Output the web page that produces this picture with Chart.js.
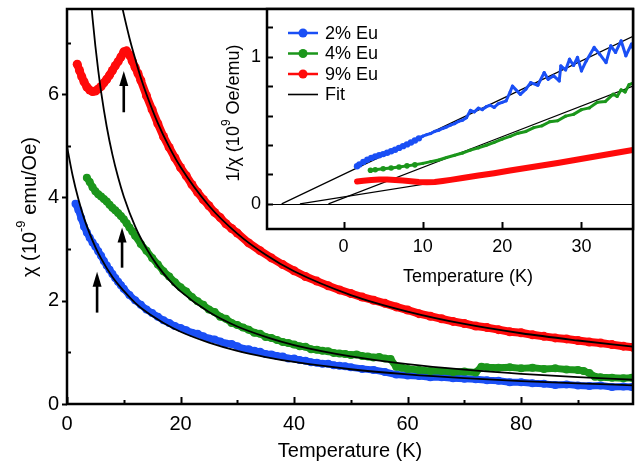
<!DOCTYPE html>
<html>
<head>
<meta charset="utf-8">
<script src="https://cdn.jsdelivr.net/npm/chart.js@4.4.1/dist/chart.umd.min.js"></script>
<style>
  html, body { margin: 0; padding: 0; background: #fff; }
  #wrap { position: relative; width: 644px; height: 463px; }
  #wrap canvas { position: absolute; left: 0; top: 0; }
</style>
</head>
<body>
<div id="wrap">
  <canvas id="mainChart" width="644" height="463"></canvas>
  <canvas id="insetChart" width="644" height="300"></canvas>
</div>
<script>
// ---- main panel: chi vs T ----
const mainXTicks = [0, 20, 40, 60, 80];
const mainXMinor = [10, 30, 50, 70, 90];
const mainYTicks = [0, 2, 4, 6];
const mainYMinor = [1, 3, 5, 7];

const blueT = [1.5, 2, 2.5, 3, 3.5, 4, 4.5, 5, 5.5, 6, 6.5, 7, 7.5, 8, 8.5, 9, 9.5, 10, 11, 12, 13, 14, 15, 16, 17, 18, 19, 20,
  21, 22, 23, 24, 25, 26, 27, 28, 29, 30, 31, 32, 33, 34, 35, 36, 37, 38, 39, 40, 41, 42, 43, 44, 45, 46, 47, 48, 49, 50,
  52, 54, 56, 58, 60, 62, 64, 66, 68, 70, 72, 74, 76, 78, 80, 82, 84, 86, 88, 90, 92, 94, 96, 98, 99.5];
const blueChi = [3.88, 3.76, 3.60, 3.44, 3.32, 3.22, 3.13, 3.05, 2.96, 2.87, 2.77, 2.68, 2.60, 2.52, 2.44, 2.37, 2.30, 2.23, 2.11, 2.01, 1.92, 1.83, 1.76, 1.69, 1.62, 1.57, 1.51, 1.47,
  1.43, 1.38, 1.36, 1.31, 1.27, 1.25, 1.21, 1.17, 1.16, 1.12, 1.07, 1.06, 1.03, 1.01, 0.97, 0.96, 0.93, 0.92, 0.88, 0.88, 0.85, 0.84, 0.81, 0.80, 0.78, 0.78, 0.75, 0.74, 0.73, 0.71,
  0.68, 0.66, 0.62, 0.57, 0.55, 0.54, 0.52, 0.52, 0.50, 0.49, 0.48, 0.46, 0.45, 0.42, 0.42, 0.40, 0.39, 0.37, 0.38, 0.36, 0.35, 0.36, 0.33, 0.34, 0.33];

const greenT = [3.5, 4, 4.5, 5, 5.5, 6, 6.5, 7, 7.5, 8, 8.5, 9, 9.5, 10, 10.5, 11, 11.5, 12, 13, 14, 15, 16, 17, 18, 19, 20,
  21, 22, 23, 24, 25, 26, 27, 28, 29, 30, 31, 32, 33, 34, 35, 36, 37, 38, 39, 40, 41, 42, 43, 44, 45, 46, 47, 48, 49, 50,
  51, 52, 53, 54, 55, 56, 57, 58, 59, 60, 62, 64, 66, 68, 70, 72, 73, 74, 76, 78, 80, 82, 84, 86, 88, 90, 91, 92, 93, 94, 96, 98, 99.5];
const greenChi = [4.38, 4.30, 4.20, 4.12, 4.06, 4.02, 3.97, 3.92, 3.86, 3.80, 3.75, 3.70, 3.64, 3.58, 3.50, 3.42, 3.34, 3.26, 3.10, 2.97, 2.83, 2.70, 2.57, 2.47, 2.36, 2.26,
  2.18, 2.07, 1.99, 1.92, 1.83, 1.78, 1.69, 1.65, 1.57, 1.53, 1.48, 1.44, 1.38, 1.36, 1.30, 1.28, 1.24, 1.20, 1.18, 1.15, 1.12, 1.11, 1.06, 1.05, 1.03, 1.02, 0.99, 0.98, 0.97, 0.95,
  0.96, 0.93, 0.92, 0.90, 0.91, 0.88, 0.87, 0.72, 0.70, 0.68, 0.66, 0.64, 0.64, 0.62, 0.63, 0.61, 0.72, 0.71, 0.70, 0.71, 0.69, 0.70, 0.68, 0.69, 0.67, 0.66, 0.64, 0.60, 0.53, 0.52, 0.51, 0.50, 0.51];

const redT = [1.8, 2.2, 2.6, 3, 3.5, 4, 4.5, 5, 5.5, 6, 6.5, 7, 7.5, 8, 8.5, 9, 9.5, 10, 10.5, 11, 11.5, 12, 12.5, 13, 14, 15, 16, 17, 18, 19, 20,
  21, 22, 23, 24, 25, 26, 27, 28, 29, 30, 32, 34, 36, 38, 40, 42, 44, 46, 48, 50, 52, 54, 56, 58, 60, 62, 64, 66, 68, 70,
  72, 74, 76, 78, 80, 82, 84, 86, 88, 90, 92, 94, 96, 98, 99.7];
const redChi = [6.58, 6.46, 6.34, 6.24, 6.14, 6.08, 6.05, 6.06, 6.10, 6.15, 6.22, 6.29, 6.37, 6.46, 6.55, 6.63, 6.72, 6.82, 6.84, 6.76, 6.64, 6.52, 6.40, 6.27, 5.97, 5.70, 5.43, 5.18, 4.97, 4.77, 4.58,
  4.42, 4.25, 4.10, 3.96, 3.84, 3.71, 3.61, 3.49, 3.40, 3.31, 3.12, 2.97, 2.83, 2.70, 2.58, 2.47, 2.38, 2.29, 2.21, 2.14, 2.07, 2.01, 1.95, 1.88, 1.82, 1.75, 1.70, 1.65, 1.60, 1.56,
  1.51, 1.48, 1.44, 1.40, 1.38, 1.34, 1.31, 1.28, 1.26, 1.23, 1.20, 1.18, 1.15, 1.12, 1.10];

// Curie-Weiss fit curves
const blueFitT = [0, 1, 2, 3, 4, 5, 6, 8, 10, 12, 14, 17, 20, 25, 30, 35, 40, 50, 60, 70, 80, 90, 99.7];
const blueFit = [4.99, 4.42, 3.97, 3.60, 3.30, 3.04, 2.82, 2.46, 2.19, 1.96, 1.78, 1.57, 1.40, 1.19, 1.03, 0.909, 0.814, 0.673, 0.574, 0.500, 0.443, 0.398, 0.362];
const greenFitT = [4.2, 4.5, 5, 5.5, 6, 7, 8, 9, 10, 12, 14, 16, 18, 20, 25, 30, 35, 40, 50, 60, 70, 80, 90, 99.7];
const greenFit = [7.84, 7.47, 6.93, 6.46, 6.05, 5.37, 4.83, 4.39, 4.02, 3.44, 3.01, 2.67, 2.40, 2.18, 1.78, 1.50, 1.30, 1.14, 0.921, 0.772, 0.665, 0.584, 0.520, 0.470];
const redFitT = [9.5, 10, 11, 12, 13, 14, 16, 18, 20, 25, 30, 35, 40, 50, 60, 70, 80, 90, 99.7];
const redFit = [7.80, 7.55, 7.09, 6.69, 6.32, 6.00, 5.44, 4.98, 4.59, 3.84, 3.30, 2.89, 2.57, 2.11, 1.79, 1.55, 1.37, 1.23, 1.11];

// arrows marking the transitions
const arrowT = [5.3, 9.7, 10.0];
const arrowBase = [1.77, 2.64, 5.65];
const arrowTip = [2.56, 3.42, 6.45];

// ---- inset: 1/chi vs T ----
const insetXTicks = [0, 10, 20, 30];
const insetYTicks = [0, 0.2, 0.4, 0.6, 0.8, 1.0, 1.2];
const insetYLabels = [0, 1];
const legendLabels = ['2% Eu', '4% Eu', '9% Eu', 'Fit'];

const invBlueT = [1.7, 2.0, 2.5, 3.0, 3.5, 4.0, 4.5, 5.0, 5.5, 6.0, 6.5, 7.0, 7.5, 8.0, 8.5, 9.0, 9.5, 10, 10.5, 11, 11.5, 12, 12.5, 13, 13.5, 14, 14.5, 15, 15.5,
  16, 16.5, 17, 17.5, 18, 18.5, 19, 19.5, 20, 20.5, 21, 21.3, 22.3, 23, 23.6, 24.5, 25.3, 25.8, 26.5, 27.2, 27.4, 28, 28.5, 29, 29.5, 30, 30.6, 31.6, 32.3, 33.1, 33.7, 34.3, 35, 35.6, 36.3, 36.5];
const invBlue = [0.255, 0.268, 0.285, 0.300, 0.312, 0.322, 0.330, 0.338, 0.347, 0.357, 0.368, 0.380, 0.392, 0.404, 0.417, 0.430, 0.445, 0.460, 0.470, 0.478, 0.492, 0.500, 0.512, 0.522, 0.535, 0.545, 0.560, 0.568, 0.585,
  0.635, 0.625, 0.650, 0.640, 0.660, 0.670, 0.655, 0.680, 0.690, 0.700, 0.760, 0.800, 0.744, 0.780, 0.824, 0.806, 0.892, 0.846, 0.870, 0.835, 0.937, 0.910, 0.983, 0.940, 0.995, 0.903, 0.971, 1.063, 1.017, 0.960, 1.074, 1.029, 1.108, 1.006, 1.085, 1.06];

const invGreenT = [3.4, 4, 5, 6, 7, 8, 9, 10, 11, 12, 13, 14, 15, 16, 17, 18, 19, 20, 21, 22, 23, 24, 25, 26, 27, 28, 29, 30, 31, 32, 33, 34, 34.5, 35, 35.5, 36, 36.5];
const invGreen = [0.228, 0.232, 0.238, 0.244, 0.250, 0.258, 0.265, 0.275, 0.287, 0.298, 0.315, 0.330, 0.345, 0.365, 0.380, 0.398, 0.418, 0.440, 0.458, 0.480, 0.492, 0.518, 0.530, 0.558, 0.565, 0.596, 0.608, 0.640, 0.652, 0.690, 0.695, 0.745, 0.730, 0.775, 0.760, 0.810, 0.820];

const invRedT = [1.7, 2.5, 3.5, 4.5, 5.5, 6.5, 7.5, 8.5, 9.5, 10.5, 11.5, 12.5, 13.5, 15, 17, 19, 21, 23, 25, 27, 29, 31, 33, 35, 36.5];
const invRed = [0.152, 0.157, 0.162, 0.165, 0.165, 0.162, 0.158, 0.153, 0.148, 0.146, 0.148, 0.155, 0.163, 0.175, 0.192, 0.208, 0.226, 0.243, 0.260, 0.278, 0.296, 0.315, 0.333, 0.352, 0.367];

// linear fits of 1/chi (end points)
const invBlueFitT = [-7.8, 36.5];
const invBlueFit = [0, 1.138];
const invGreenFitT = [-1.9, 36.5];
const invGreenFit = [0, 0.80];
const invRedFitT = [-5.5, 36.5];
const invRedFit = [0, 0.359];

const BLUE = '#1a4ff5';
const GREEN = '#1b961b';
const RED = '#ff0a0a';
const FONT = '"Liberation Sans", Arial, sans-serif';

function pts(xs, ys)
{
    return xs.map((x, i) => ({ x: x, y: ys[i] }));
}

// text with a superscript part, optionally rotated
function drawRich(ctx, parts, cx, cy, size, rotated)
{
    ctx.save();
    ctx.translate(cx, cy);
    if (rotated) ctx.rotate(-Math.PI / 2);
    ctx.fillStyle = '#000';
    ctx.textBaseline = 'middle';
    ctx.textAlign = 'left';
    let total = 0;
    parts.forEach(p =>
    {
        ctx.font = (p.sup ? Math.round(size * 0.65) : size) + 'px ' + FONT;
        p.w = ctx.measureText(p.t).width;
        total += p.w;
    });
    let x = -total / 2;
    parts.forEach(p =>
    {
        ctx.font = (p.sup ? Math.round(size * 0.65) : size) + 'px ' + FONT;
        ctx.fillText(p.t, x, p.sup ? -size * 0.42 : 0);
        x += p.w;
    });
    ctx.restore();
}

function drawTicks(ctx, scale, values, len, horizontal, area)
{
    values.forEach(v =>
    {
        const p = Math.round(scale.getPixelForValue(v)) + 0.5;
        ctx.beginPath();
        if (horizontal)
        {
            ctx.moveTo(p, area.bottom);
            ctx.lineTo(p, area.bottom - len);
        }
        else
        {
            ctx.moveTo(area.left, p);
            ctx.lineTo(area.left + len, p);
        }
        ctx.stroke();
    });
}

const mainDecor = {
    id: 'mainDecor',
    afterDatasetsDraw(chart)
    {
        const ctx = chart.ctx;
        const a = chart.chartArea;
        const xs = chart.scales.x, ys = chart.scales.y;
        ctx.save();
        ctx.strokeStyle = '#000';
        ctx.lineWidth = 2;
        drawTicks(ctx, xs, mainXTicks, 7, true, a);
        drawTicks(ctx, xs, mainXMinor, 4, true, a);
        drawTicks(ctx, ys, mainYTicks, -5, false, a);
        drawTicks(ctx, ys, mainYMinor, 4, false, a);
        ctx.lineWidth = 2.5;
        ctx.strokeRect(a.left, a.top, a.right - a.left, a.bottom - a.top);

        // arrows
        ctx.fillStyle = '#000';
        arrowT.forEach((t, i) =>
        {
            const x = xs.getPixelForValue(t);
            const yb = ys.getPixelForValue(arrowBase[i]);
            const yt = ys.getPixelForValue(arrowTip[i]);
            ctx.lineWidth = 2.6;
            ctx.beginPath();
            ctx.moveTo(x, yb);
            ctx.lineTo(x, yt + 12);
            ctx.stroke();
            ctx.beginPath();
            ctx.moveTo(x, yt);
            ctx.lineTo(x - 4.5, yt + 15);
            ctx.lineTo(x + 4.5, yt + 15);
            ctx.closePath();
            ctx.fill();
        });
        ctx.restore();
    },
    afterDraw(chart)
    {
        const ctx = chart.ctx;
        drawRich(ctx, [{ t: 'Temperature (K)' }], 350, 451, 20, false);
        drawRich(ctx, [{ t: '\u03c7 (10' }, { t: '-9', sup: true }, { t: ' emu/Oe)' }], 30, 207, 20, true);
    }
};

const insetDecor = {
    id: 'insetDecor',
    beforeDatasetsDraw(chart)
    {
        const ctx = chart.ctx;
        const a = chart.chartArea;
        ctx.save();
        ctx.fillStyle = '#fff';
        ctx.fillRect(a.left, a.top, a.right - a.left, a.bottom - a.top);
        // zero line
        const y0 = Math.round(chart.scales.y.getPixelForValue(0)) + 0.5;
        ctx.strokeStyle = '#000';
        ctx.lineWidth = 1.2;
        ctx.beginPath();
        ctx.moveTo(a.left, y0);
        ctx.lineTo(a.right, y0);
        ctx.stroke();
        ctx.restore();
    },
    afterDatasetsDraw(chart)
    {
        const ctx = chart.ctx;
        const a = chart.chartArea;
        ctx.save();
        ctx.strokeStyle = '#000';
        ctx.lineWidth = 2;
        drawTicks(ctx, chart.scales.x, insetXTicks, 7, true, a);
        drawTicks(ctx, chart.scales.y, insetYTicks, 6, false, a);
        ctx.lineWidth = 2.5;
        ctx.strokeRect(a.left, a.top, a.right - a.left, a.bottom - a.top);

        // legend
        const colors = [BLUE, GREEN, RED, '#000'];
        ctx.font = '18px ' + FONT;
        ctx.textBaseline = 'middle';
        ctx.textAlign = 'left';
        legendLabels.forEach((lab, i) =>
        {
            const y = 33 + i * 20.5;
            ctx.strokeStyle = colors[i];
            ctx.lineWidth = i < 3 ? 2.5 : 1.6;
            ctx.beginPath();
            ctx.moveTo(288, y);
            ctx.lineTo(318, y);
            ctx.stroke();
            if (i < 3)
            {
                ctx.fillStyle = colors[i];
                ctx.beginPath();
                ctx.arc(303, y, 4.5, 0, Math.PI * 2);
                ctx.fill();
            }
            ctx.fillStyle = '#000';
            ctx.fillText(lab, 325, y + 1);
        });
        ctx.restore();
    },
    afterDraw(chart)
    {
        const ctx = chart.ctx;
        drawRich(ctx, [{ t: 'Temperature (K)' }], 468, 277, 18, false);
        drawRich(ctx, [{ t: '1/\u03c7 (10' }, { t: '9', sup: true }, { t: ' Oe/emu)' }], 234, 113, 18, true);
    }
};

function dataSet(label, data, color, width, radius, order)
{
    return {
        label: label,
        data: data,
        borderColor: color,
        backgroundColor: color,
        borderWidth: width,
        pointRadius: radius,
        pointBorderWidth: 0,
        pointHoverRadius: 0,
        borderJoinStyle: 'round',
        borderCapStyle: 'round',
        tension: 0,
        order: order
    };
}

function fitSet(data, width, order)
{
    return {
        data: data,
        borderColor: '#000',
        borderWidth: width,
        pointRadius: 0,
        cubicInterpolationMode: 'monotone',
        order: order
    };
}

// fixed-size axis: no extra label padding so the plot box sits where the reference has it
function axis(min, max, ticks, fontSize, pad, size, horizontal)
{
    return {
        type: 'linear',
        min: min,
        max: max,
        afterBuildTicks: s => { s.ticks = ticks.map(v => ({ value: v })); },
        afterFit: s =>
        {
            if (horizontal) s.height = size; else s.width = size;
            s.paddingTop = 0;
            s.paddingBottom = 0;
            s.paddingLeft = 0;
            s.paddingRight = 0;
        },
        grid: { display: false, drawTicks: false },
        border: { display: false },
        ticks: {
            color: '#000',
            padding: pad,
            font: { family: FONT, size: fontSize },
            callback: v => String(v)
        }
    };
}

new Chart(document.getElementById('mainChart'), {
    type: 'line',
    data: {
        datasets: [
            fitSet(pts(blueFitT, blueFit), 1.8, 0),
            fitSet(pts(greenFitT, greenFit), 1.8, 0),
            fitSet(pts(redFitT, redFit), 1.8, 0),
            dataSet('2% Eu', pts(blueT, blueChi), BLUE, 7, 4, 3),
            dataSet('4% Eu', pts(greenT, greenChi), GREEN, 7, 4, 2),
            dataSet('9% Eu', pts(redT, redChi), RED, 8, 4.5, 1)
        ]
    },
    options: {
        responsive: false,
        animation: false,
        devicePixelRatio: 1,
        layout: { padding: { top: 9, right: 11, left: 0, bottom: 0 } },
        plugins: { legend: { display: false }, tooltip: { enabled: false } },
        scales: {
            x: axis(0, 99.7, mainXTicks, 20, 8, 59, true),
            y: axis(0, 7.65, mainYTicks, 20, 8, 67, false)
        }
    },
    plugins: [mainDecor]
});

new Chart(document.getElementById('insetChart'), {
    type: 'line',
    data: {
        datasets: [
            dataSet('2% Eu', pts(invBlueT, invBlue), BLUE, 3, c => (c.raw && c.raw.x < 10 ? 3.2 : 1.6), 1),
            dataSet('4% Eu', pts(invGreenT, invGreen), GREEN, 3, c => (c.raw && c.raw.x < 10 ? 2.8 : 1.6), 2),
            dataSet('9% Eu', pts(invRedT, invRed), RED, 6, 0, 3),
            fitSet(pts(invBlueFitT, invBlueFit), 1.2, 5),
            fitSet(pts(invGreenFitT, invGreenFit), 1.2, 5),
            fitSet(pts(invRedFitT, invRedFit), 1.2, 5)
        ]
    },
    options: {
        responsive: false,
        animation: false,
        devicePixelRatio: 1,
        layout: { padding: { top: 9, right: 11, left: 0, bottom: 0 } },
        plugins: { legend: { display: false }, tooltip: { enabled: false } },
        scales: {
            x: axis(-9.65, 36.5, insetXTicks, 18, 7, 71, true),
            y: axis(-0.171, 1.324, insetYLabels, 18, 6, 267, false)
        }
    },
    plugins: [insetDecor]
});
</script>
</body>
</html>
